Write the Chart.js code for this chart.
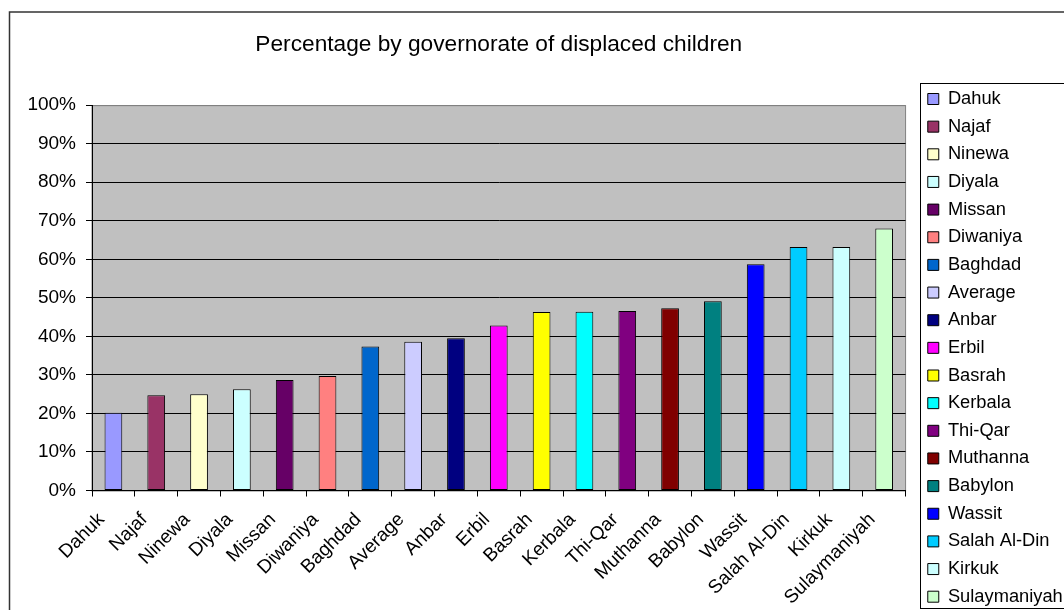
<!DOCTYPE html>
<html lang="en">
  <head>
    <meta charset="utf-8">
    <title>Percentage by governorate of displaced children</title>
    <style> body {padding: 0; margin: 0; background: #fff; overflow: hidden;} </style>
    <script src="https://cdn.jsdelivr.net/npm/chart.js@4/dist/chart.umd.min.js"></script>
  </head>
  <body>
    <canvas id="govChart" width="1064" height="610"></canvas>
    <script>

      // governorates, sorted by share of displaced children (percent)
      const governorates = ['Dahuk', 'Najaf', 'Ninewa', 'Diyala', 'Missan', 'Diwaniya', 'Baghdad',
        'Average', 'Anbar', 'Erbil', 'Basrah', 'Kerbala', 'Thi-Qar', 'Muthanna', 'Babylon',
        'Wassit', 'Salah Al-Din', 'Kirkuk', 'Sulaymaniyah'];
      const shares = [20.2, 24.7, 25.0, 26.3, 28.7, 29.7, 37.4, 38.6, 39.5, 42.8, 46.3,
        46.4, 46.6, 47.3, 49.1, 58.7, 63.2, 63.2, 68.0];
      const barColors = ['#9999ff', '#993366', '#ffffcc', '#ccffff', '#660066', '#ff8080', '#0066cc',
        '#ccccff', '#000080', '#ff00ff', '#ffff00', '#00ffff', '#800080', '#800000', '#008080',
        '#0000ff', '#00ccff', '#ccffff', '#ccffcc'];

      const font = '"Liberation Sans", Arial, sans-serif';

      // white page, outer frame, grey plot area and a box round the legend
      const frame = {
        id: 'frame',
        beforeDraw(chart) {
          const {ctx, chartArea: a} = chart;
          ctx.save();
          ctx.fillStyle = '#fff';
          ctx.fillRect(0, 0, chart.width, chart.height);
          ctx.strokeStyle = '#333';
          ctx.lineWidth = 1.5;
          ctx.strokeRect(9.5, 12, chart.width + 20, chart.height + 20);
          ctx.fillStyle = '#c0c0c0';
          ctx.fillRect(a.left, a.top, a.right - a.left, a.bottom - a.top);
          ctx.strokeStyle = '#808080';
          ctx.lineWidth = 1;
          ctx.strokeRect(a.left, a.top + 0.5, a.right - a.left, a.bottom - a.top);
          ctx.restore();
        },
        afterDraw(chart) {
          const boxes = chart.legend.legendHitBoxes;
          if (!boxes || !boxes.length) return;
          const first = boxes[0], last = boxes[boxes.length - 1];
          const ctx = chart.ctx;
          ctx.save();
          ctx.strokeStyle = '#000';
          ctx.lineWidth = 1;
          const x = Math.round(first.left - 8) + 0.5;
          const y = Math.round(first.top - 7) + 0.5;
          const h = Math.round(last.top + last.height + 2.5) - Math.round(first.top - 7);
          ctx.strokeRect(x, y, chart.width, h);
          ctx.restore();
        }
      };

      const ctx = document.getElementById('govChart').getContext('2d');
      const govChart = new Chart(ctx, {
        type: 'bar',
        data: {
          labels: governorates,
          datasets: [{
            data: shares,
            backgroundColor: barColors,
            borderColor: '#000',
            borderWidth: 1,
            borderSkipped: false,
            barPercentage: 0.414,
            categoryPercentage: 1
          }]
        },
        plugins: [frame],
        options: {
          responsive: false,
          animation: false,
          layout: {padding: {left: 0, top: 0, right: -8.75, bottom: -85.7}},
          plugins: {
            title: {
              display: true,
              text: 'Percentage by governorate of displaced children',
              fullSize: false,
              color: '#000',
              font: {family: font, size: 22.7, weight: 'normal', lineHeight: 1.2},
              padding: {top: 31.2, bottom: 46.7}
            },
            legend: {
              position: 'right',
              onClick: null,
              labels: {
                color: '#000',
                font: {family: font, size: 18.3},
                boxWidth: 11,
                boxHeight: 11,
                padding: 9.35,
                generateLabels: () => governorates.map((g, i) => ({
                  text: g,
                  fillStyle: barColors[i],
                  strokeStyle: '#000',
                  lineWidth: 1,
                  fontColor: '#000',
                  hidden: false,
                  index: i
                }))
              }
            },
            tooltip: {enabled: false}
          },
          scales: {
            x: {
              grid: {display: true, drawOnChartArea: false, drawTicks: true, tickLength: 6, color: '#000', offset: true},
              border: {color: '#000', width: 1},
              ticks: {
                color: '#000',
                font: {family: font, size: 19},
                minRotation: 45,
                maxRotation: 45,
                autoSkip: false,
                padding: 12,
                labelOffset: -12
              },
              afterFit: (scale) => { scale.height = 205.2; }
            },
            y: {
              min: 0,
              max: 100,
              grid: {
                color: (c) => c.tick.value === 100 ? '#808080' : '#000',
                tickColor: '#000',
                tickLength: 6
              },
              border: {color: '#000', width: 1},
              ticks: {
                stepSize: 10,
                color: '#000',
                font: {family: font, size: 19},
                padding: 10,
                callback: (v) => v + '%'
              },
              afterFit: (scale) => { scale.width = 92; }
            },
            // empty axis that keeps a gap between the plot and the legend
            gap: {
              type: 'linear',
              position: 'right',
              grid: {display: false, drawTicks: false},
              ticks: {display: false},
              border: {display: false},
              afterFit: (scale) => { scale.width = 12.85; }
            }
          }
        }
      });
    </script>
  </body>
</html>
